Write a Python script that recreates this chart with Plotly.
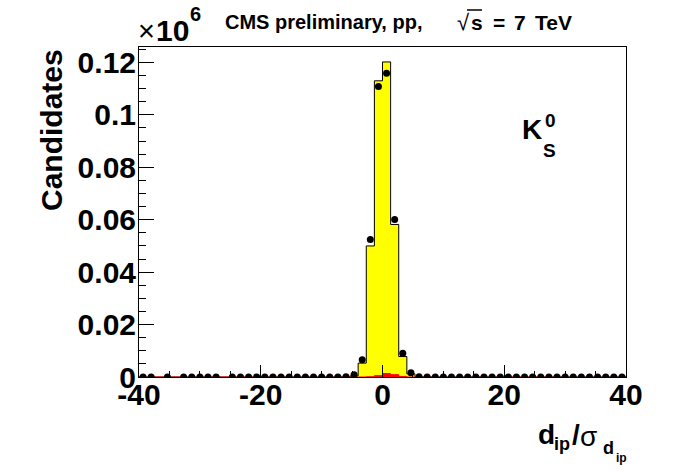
import numpy as np
import plotly.graph_objects as go

# ---- data (60 bins from -40 to 40) ----
x_min, x_max, n_bins = -40.0, 40.0, 60

# MC total (yellow histogram), candidates per bin
mc_total = [3, 2, 0, 2, 0, 3, 2, 3, 2, 3, 0, 3, 4, 3, 4, 5, 5, 6, 7, 8, 10, 12, 15, 20, 30, 60,
            400, 5300, 50000, 113000, 120200, 58200, 7800, 1200,
            60, 30, 20, 15, 12, 10, 8, 7, 6, 5, 5, 4, 4, 3, 3, 3, 2, 2, 2, 2, 2, 2, 1, 1, 1, 1]
# MC background (red histogram)
mc_bkg = [0] * 28 + [100, 500, 1300, 900, 200] + [0] * 27
# data points (None = empty bin, not drawn)
data_pts = [4, 3, None, 3, None, 4, 3, 4, 3, 4, None, 4, 5, 4, 5, 6, 6, 7, 8, 9, 12, 14, 18, 25, 35, 80,
            900, 6600, 52500, 110800, 115900, 60100, 9100, 1600,
            90, 40, 25, 18, 14, 12, 10, 8, 7, 6, 6, 5, 5, 4, 4, 4, 3, 3, 3, 3, 3, 2, 2, 2, 2, 2]

y_tick_vals = [0, 20000, 40000, 60000, 80000, 100000, 120000]
y_tick_text = ["0", "0.02", "0.04", "0.06", "0.08", "0.1", "0.12"]
x_tick_vals = [-40, -20, 0, 20, 40]
x_tick_text = ["-40", "-20", "0", "20", "40"]

edges = np.linspace(x_min, x_max, n_bins + 1)
centers = 0.5 * (edges[:-1] + edges[1:])

def step_xy(vals):
    xs = list(edges)
    ys = list(vals) + [vals[-1]]
    return xs, ys

fig = go.Figure()

sx, sy = step_xy(mc_total)
fig.add_trace(go.Scatter(x=sx, y=sy, mode="lines", line=dict(shape="hv", color="black", width=1),
                         fill="tozeroy", fillcolor="#ffff00", hoverinfo="skip", showlegend=False))
bx, by = step_xy(mc_bkg)
fig.add_trace(go.Scatter(x=bx, y=by, mode="lines", line=dict(shape="hv", color="#ff0000", width=1),
                         fill="tozeroy", fillcolor="#ff0000", hoverinfo="skip", showlegend=False))

px = [c for c, v in zip(centers, data_pts) if v is not None]
py = [v for v in data_pts if v is not None]
fig.add_trace(go.Scatter(x=px, y=py, mode="markers",
                         marker=dict(symbol="circle", size=7, color="black"),
                         showlegend=False))

W, H = 696, 472
L, R, T, B = 139, 626, 47, 377   # plot area in screen pixels

def xp(p):
    return (p - L) / (R - L)

def yp(p):
    return (B - p) / (B - T)

FF = "Liberation Sans"

def note(text, x, y, size, bold=True, xanchor="left", angle=0):
    return dict(text=text, x=xp(x), y=yp(y), xref="paper", yref="paper",
                xanchor=xanchor, yanchor="middle", showarrow=False, textangle=angle,
                font=dict(family=FF, size=size, color="black", weight="bold" if bold else "normal"))

ann = [
    note("CMS preliminary, pp,", 223, 22, 20),
    note("√", 455, 22, 22, bold=False),
    note("s", 469, 23, 21),
    note("=", 491, 22, 21),
    note("7", 512, 22, 21),
    note("TeV", 533, 22, 21),
    note("×", 136, 31, 29, bold=False),
    note("10", 154, 30, 30),
    note("6", 188, 14, 20),
    note("K", 520, 129, 28),
    note("S", 541, 150, 19),
    note("0", 543, 120, 19),
    note("d", 536, 434, 28),
    note("ip", 552, 444, 18),
    note("/", 570, 434, 28),
    note("σ", 578, 436, 28, bold=False),
    note("d", 601, 448, 18),
    note("ip", 614, 458, 12),
    note("Candidates", 51, 130, 30, xanchor="center", angle=-90),
]

tf = dict(family=FF, size=30, color="black", weight="bold")

fig.update_layout(
    width=W, height=H,
    margin=dict(l=L, r=W - R, t=T, b=H - B, pad=0),
    paper_bgcolor="white", plot_bgcolor="white",
    showlegend=False,
    annotations=ann,
    xaxis=dict(range=[x_min, x_max], showgrid=False, zeroline=False, automargin=False,
               showline=True, linecolor="black", linewidth=1, mirror=True,
               ticks="inside", ticklen=12, tickwidth=1, tickcolor="black",
               tickvals=x_tick_vals, ticktext=x_tick_text, ticklabelstandoff=-9,
               minor=dict(dtick=5, tick0=0, ticks="inside", ticklen=6, tickcolor="black", showgrid=False),
               tickfont=tf,
               ),
    yaxis=dict(range=[0, 125900], showgrid=False, zeroline=False, automargin=False,
               showline=True, linecolor="black", linewidth=1, mirror=True,
               ticks="inside", ticklen=15, tickwidth=1, tickcolor="black",
               tickvals=y_tick_vals, ticktext=y_tick_text, ticklabelstandoff=-4,
               minor=dict(dtick=5000, tick0=0, ticks="inside", ticklen=7, tickcolor="black", showgrid=False),
               tickfont=tf,
               ),
)
# overline of sqrt(s)
fig.add_shape(type="line", xref="paper", yref="paper", x0=xp(467), x1=xp(482), y0=yp(10), y1=yp(10),
              line=dict(color="black", width=1.5))

fig.write_html("out.html", config={"displayModeBar": False},
               post_script="document.body.style.margin='0';document.body.style.overflow='hidden';")
